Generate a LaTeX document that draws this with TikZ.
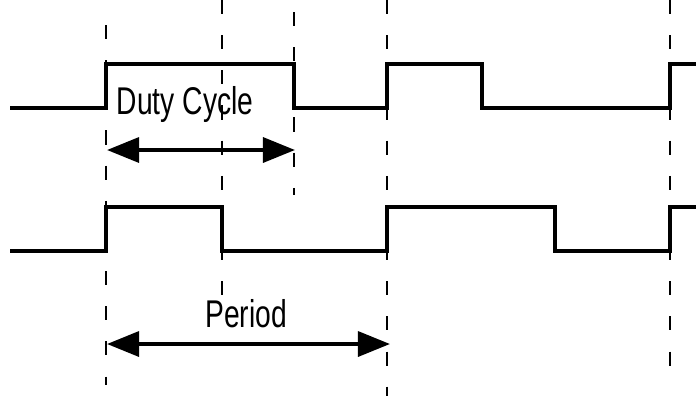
\documentclass[tikz,border=0pt]{standalone}
\usepackage{fontspec}
\setmainfont{Liberation Sans}
\usetikzlibrary{arrows.meta}

\begin{document}
\begin{tikzpicture}[
  x=0.025cm, y=-0.025cm,
  % Styles
  wave/.style={line width=2.3pt, line join=miter},
  guide/.style={line width=1.5pt, dash pattern=on 10pt off 15pt},
  span/.style={{Triangle[length=8mm, width=6.2mm]}-{Triangle[length=8mm, width=6.2mm]}, line width=2.8pt},
  lbl/.style={font=\fontsize{27.5}{30}\selectfont, xscale=0.73, anchor=base, inner sep=0pt},
]
  \useasboundingbox (0,0) rectangle (696,396);

  % ── GUIDE LINES ───────────────────────────────────────────
  \draw[guide] (106,25) -- (106,385);
  \draw[guide] (222,0) -- (222,295);
  \draw[guide] (294,12) -- (294,195);
  \draw[guide] (387,0) -- (387,396);
  \draw[guide] (670,0) -- (670,380);

  % ── WAVEFORMS ─────────────────────────────────────────────
  % Upper signal
  \draw[wave] (10,108) -- (106,108) -- (106,64) -- (294,64) -- (294,108)
    -- (387,108) -- (387,64) -- (482,64) -- (482,108) -- (670,108)
    -- (670,64) -- (696,64);
  % Lower signal
  \draw[wave] (10,251) -- (106,251) -- (106,207) -- (222,207) -- (222,251)
    -- (387,251) -- (387,207) -- (555,207) -- (555,251) -- (670,251)
    -- (670,207) -- (696,207);

  % ── SPANS ─────────────────────────────────────────────────
  \coordinate (dutyL) at (107,150);
  \coordinate (dutyR) at (295,150);
  \coordinate (perL) at (107,344);
  \coordinate (perR) at (390,344);

  \node[lbl] (duty) at (185,114) {Duty Cycle};
  \node[lbl] (period) at (246,327) {Period};

  \draw[span] (dutyL) -- (dutyR);
  \draw[span] (perL) -- (perR);

\end{tikzpicture}
\end{document}
